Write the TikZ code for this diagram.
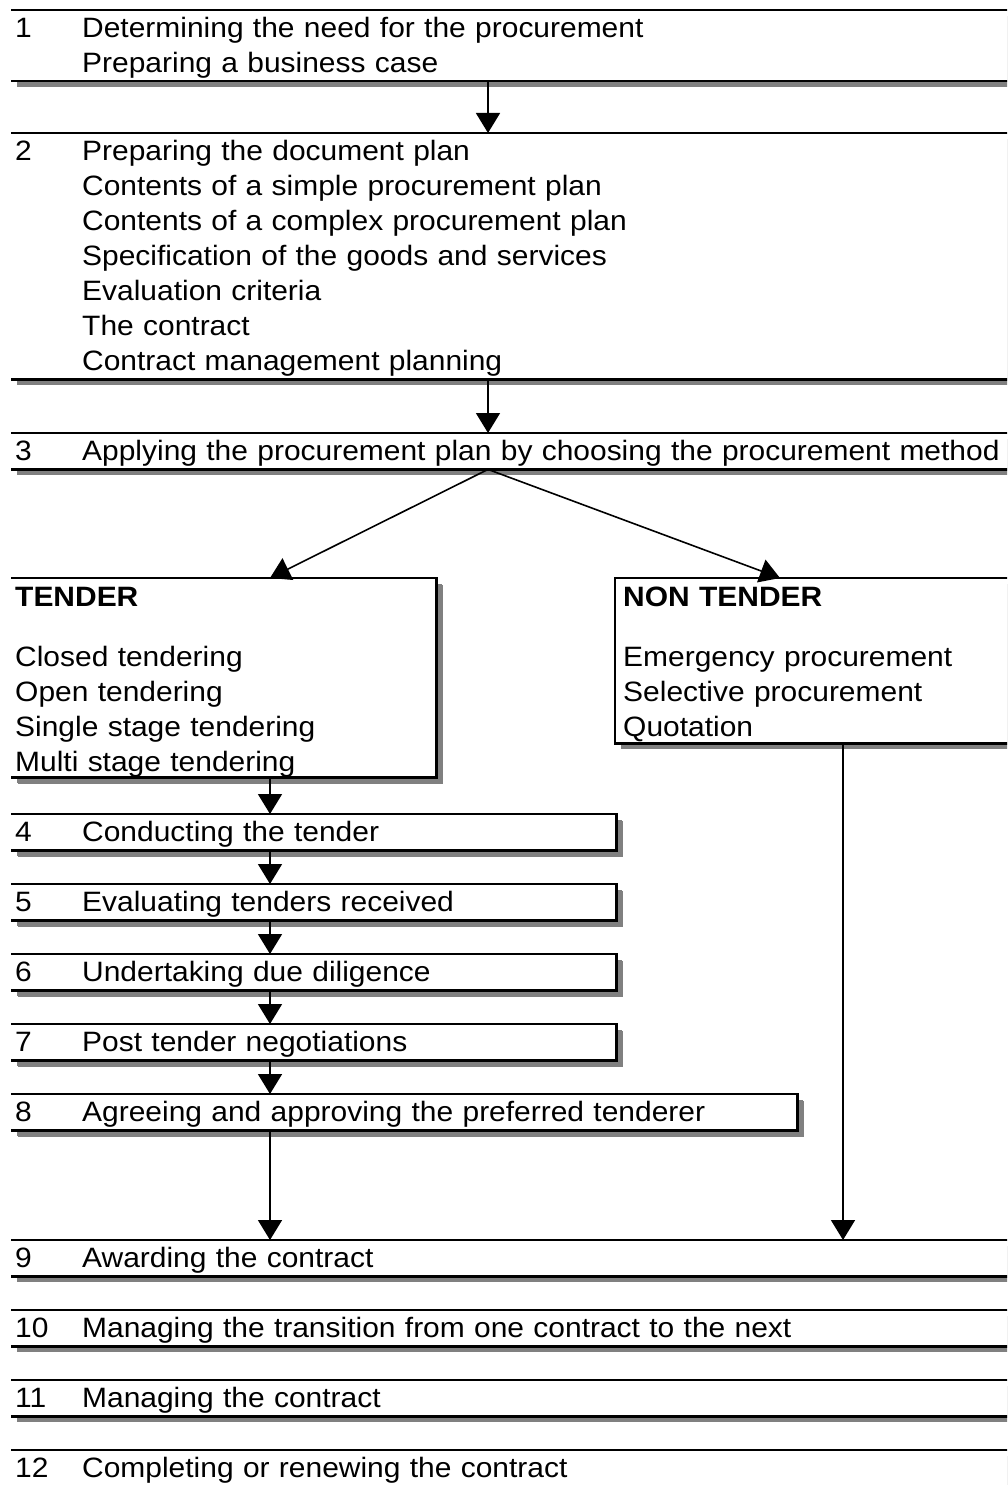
\documentclass[tikz,border=0pt]{standalone}
\usepackage{fontspec}
\setmainfont{Liberation Sans}[FakeStretch=1.07]
\usetikzlibrary{positioning, arrows.meta, shadows}

\newcommand{\stepno}[1]{\rule{0pt}{27pt}\makebox[67pt][l]{#1}}
\newcommand{\ind}{\hspace*{67pt}}
\newcommand{\lastdp}{\rule[-9pt]{0pt}{9pt}}

\begin{document}
\begin{tikzpicture}[x=1pt, y=-1pt,
    every node/.style={font=\fontsize{28}{35}\selectfont},
    stage/.style={anchor=north west, inner xsep=4pt, inner ysep=0pt, align=left,
                  fill=white, drop shadow={shadow xshift=6pt, shadow yshift=-6pt,
                  fill=black!50, opacity=1}},
    wide/.style={stage, text width=996pt},
    small/.style={stage, text width=597pt,
                  drop shadow={shadow xshift=7pt, shadow yshift=-7pt, fill=black!50, opacity=1}},
    frame/.style={line width=2.2pt},
    flow/.style={line width=1.6pt, -{Triangle[width=24pt, length=20pt]}},
  ]
  \useasboundingbox (0,0) rectangle (1007,1485);
  \fill[white] (0,0) rectangle (1007,1485);
  \clip (0,0) rectangle (1007,1485);

  % planning stages
  \node[wide] (b1) at (11,10) {\stepno{1}Determining the need for the procurement\\
    \ind Preparing a business case\lastdp};
  \node[wide] (b2) at (11,133) {\stepno{2}Preparing the document plan\\
    \ind Contents of a simple procurement plan\\
    \ind Contents of a complex procurement plan\\
    \ind Specification of the goods and services\\
    \ind Evaluation criteria\\
    \ind The contract\\
    \ind Contract management planning\lastdp};
  \node[wide] (b3) at (11,433) {\stepno{3}Applying the procurement plan by choosing the procurement method\lastdp};

  % methods
  \node[stage, text width=417pt,
        drop shadow={shadow xshift=7pt, shadow yshift=-7pt, fill=black!50, opacity=1}]
    (tender) at (11,578) {\rule{0pt}{28pt}\textbf{TENDER}\\[25pt]
    Closed tendering\\ Open tendering\\ Single stage tendering\\
    Multi stage tendering\rule[-6pt]{0pt}{6pt}};
  \node[stage, inner xsep=8pt, text width=404pt] (ntender) at (615,578)
    {\rule{0pt}{28pt}\textbf{NON TENDER}\\[25pt]
    Emergency procurement\\ Selective procurement\\
    Quotation\rule[-7pt]{0pt}{7pt}};

  % tender steps
  \node[small] (b4) at (11,814) {\stepno{4}Conducting the tender\lastdp};
  \node[small] (b5) at (11,884) {\stepno{5}Evaluating tenders received\lastdp};
  \node[small] (b6) at (11,954) {\stepno{6}Undertaking due diligence\lastdp};
  \node[small] (b7) at (11,1024) {\stepno{7}Post tender negotiations\lastdp};
  \node[small, text width=778pt] (b8) at (11,1094)
    {\stepno{8}Agreeing and approving the preferred tenderer\lastdp};

  % contract stages
  \node[wide] (b9) at (11,1240) {\stepno{9}Awarding the contract\lastdp};
  \node[wide] (b10) at (11,1310) {\stepno{10}Managing the transition from one contract to the next\lastdp};
  \node[wide] (b11) at (11,1380) {\stepno{11}Managing the contract\lastdp};
  \node[wide] (b12) at (11,1450) {\stepno{12}Completing or renewing the contract\rule[-40pt]{0pt}{40pt}};

  % frames
  \foreach \b in {b1,b2,b3,b9,b10,b11,b12}
    \draw[frame] (\b.north west) -- (\b.north east) (\b.south west) -- (\b.south east);
  \foreach \b in {tender,b4,b5,b6,b7,b8}
    \draw[frame] (\b.north west) -- (\b.north east) -- (\b.south east) -- (\b.south west);
  \draw[frame] (ntender.north east) -- (ntender.north west) -- (ntender.south west) -- (ntender.south east);

  % lanes for the connectors
  \coordinate (mlane) at (488,0);
  \coordinate (tlane) at (270,0);
  \coordinate (rlane) at (780,0);
  \coordinate (nlane) at (843,0);

  % connectors
  \draw[flow] (b1.south -| mlane) -- (b2.north -| mlane);
  \draw[flow] (b2.south -| mlane) -- (b3.north -| mlane);
  \draw[flow] (b3.south -| mlane) -- (tender.north -| tlane);
  \draw[flow] (b3.south -| mlane) -- (ntender.north -| rlane);
  \foreach \a/\b in {tender/b4, b4/b5, b5/b6, b6/b7, b7/b8, b8/b9}
    \draw[flow] (\a.south -| tlane) -- (\b.north -| tlane);
  \draw[flow] (ntender.south -| nlane) -- (b9.north -| nlane);
\end{tikzpicture}
\end{document}
